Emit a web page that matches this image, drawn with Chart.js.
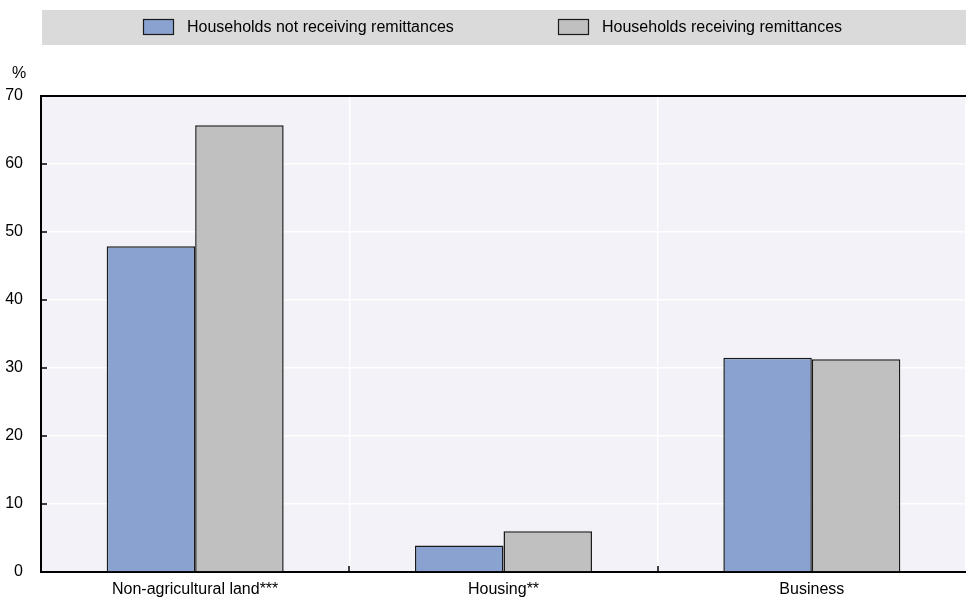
<!DOCTYPE html>
<html>
<head>
<meta charset="utf-8">
<script src="https://cdn.jsdelivr.net/npm/chart.js@4.4.0/dist/chart.umd.min.js"></script>
<style>
  html, body { margin: 0; padding: 0; background: #fff; }
  #wrap { position: relative; width: 966px; height: 600px; }
</style>
</head>
<body>
<div id="wrap"><canvas id="chart"></canvas></div>
<script>
const categories = ['Non-agricultural land***', 'Housing**', 'Business'];
const notReceiving = [47.9, 3.9, 31.5];
const receiving = [65.7, 6.0, 31.3];
const seriesLabels = ['Households not receiving remittances', 'Households receiving remittances'];
const yTicks = [0, 10, 20, 30, 40, 50, 60, 70];

const FONT = "'Liberation Sans', Arial, sans-serif";

// background band, plot fill, legend, frame and inward ticks
const framePlugin = {
  id: 'frame',
  beforeDraw(chart) {
    const { ctx, chartArea: a } = chart;
    ctx.save();
    ctx.fillStyle = '#dadada';
    ctx.fillRect(42, 10, 924, 35);
    ctx.fillStyle = '#f2f2f8';
    ctx.fillRect(a.left, a.top, a.right - a.left, a.bottom - a.top);
    ctx.restore();
  },
  afterDraw(chart) {
    const { ctx, chartArea: a } = chart;
    const y = chart.scales.y;
    const x = chart.scales.x;
    ctx.save();

    // legend
    ctx.font = '16px ' + FONT;
    ctx.textBaseline = 'middle';
    const starts = [143, 558];
    chart.data.datasets.forEach((ds, i) => {
      const bx = starts[i];
      ctx.fillStyle = ds.backgroundColor;
      ctx.fillRect(bx, 19.5, 31, 15);
      ctx.strokeStyle = '#1a1a1a';
      ctx.lineWidth = 1.2;
      ctx.strokeRect(bx + 0.5, 19.5, 30, 15);
      ctx.fillStyle = '#000';
      ctx.fillText(ds.label, bx + 44, 27.5);
    });

    // unit label
    ctx.textAlign = 'left';
    ctx.fillText('%', 12, 74);

    // top border
    ctx.strokeStyle = '#000';
    ctx.lineWidth = 2;
    ctx.beginPath();
    ctx.moveTo(a.left, a.top);
    ctx.lineTo(a.right, a.top);
    ctx.stroke();

    // inward ticks on y
    ctx.lineWidth = 1.5;
    yTicks.forEach(v => {
      const py = Math.round(y.getPixelForValue(v));
      ctx.beginPath();
      ctx.moveTo(a.left, py);
      ctx.lineTo(a.left + 6, py);
      ctx.stroke();
    });
    // inward ticks on x at category boundaries
    for (let i = 1; i < categories.length; i++) {
      const px = Math.round((x.getPixelForValue(i - 1) + x.getPixelForValue(i)) / 2);
      ctx.beginPath();
      ctx.moveTo(px, a.bottom);
      ctx.lineTo(px, a.bottom - 6);
      ctx.stroke();
    }
    ctx.restore();
  }
};

const ctx = document.querySelector('#chart').getContext('2d');
const chart = new Chart(ctx, {
  type: 'bar',
  data: {
    labels: categories,
    datasets: [
      {
        label: seriesLabels[0],
        data: notReceiving,
        backgroundColor: '#8aa2d0',
        borderColor: '#1a1a1a',
        borderWidth: 1.5
      },
      {
        label: seriesLabels[1],
        data: receiving,
        backgroundColor: '#c0c0c0',
        borderColor: '#1a1a1a',
        borderWidth: 1.5
      }
    ]
  },
  options: {
    responsive: true,
    maintainAspectRatio: false,
    animation: false,
    devicePixelRatio: 1,
    layout: { padding: { top: 96, right: 0, left: 0, bottom: 0 } },
    datasets: {
      bar: { categoryPercentage: 0.574, barPercentage: 1 }
    },
    plugins: {
      legend: { display: false },
      tooltip: { enabled: false }
    },
    scales: {
      x: {
        grid: { color: '#ffffff', lineWidth: 1.5, drawTicks: false, offset: true },
        border: { color: '#000', width: 2 },
        ticks: { color: '#000', font: { family: FONT, size: 16 }, padding: 8 },
        afterFit(scale) { scale.height = 28; }
      },
      y: {
        min: 0,
        max: 70,
        afterBuildTicks(scale) { scale.ticks = yTicks.map(v => ({ value: v })); },
        grid: { color: '#ffffff', lineWidth: 1.5, drawTicks: false },
        border: { color: '#000', width: 2 },
        ticks: { color: '#000', font: { family: FONT, size: 16 }, padding: 18 },
        afterFit(scale) { scale.width = 41; }
      }
    }
  },
  plugins: [framePlugin]
});
</script>
</body>
</html>
